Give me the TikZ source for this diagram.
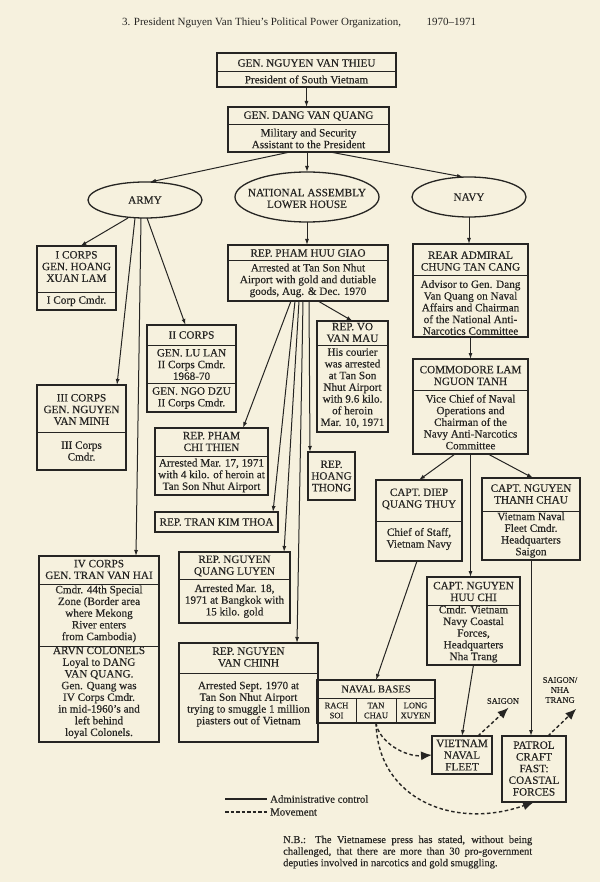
\documentclass[tikz,border=0pt]{standalone}
\usepackage{fontspec}
\setmainfont{Liberation Serif}[FakeBold=0.35]
\newfontfamily\plainf{Liberation Serif}[Ligatures=TeX]
\usetikzlibrary{shapes.geometric,arrows.meta,calc}
\definecolor{paper}{HTML}{F6F1DE}
\definecolor{ink}{HTML}{262523}
\newcommand\bxf{\fontsize{11.2}{11.7}\selectfont}
\newcommand\smf{\fontsize{8.5}{10}\selectfont}
\newcommand\titf{\plainf\fontsize{11}{13}\selectfont}
\newcommand\mkbox[5]{\node[box, minimum width={#4-#2}, minimum height={#5-#3}] (#1) at ({(#2+#4)/2},{(#3+#5)/2}) {};}
\newcommand\hdiv[2]{\path (0,#2) coordinate (dv#1#2); \draw[divl] (#1.west |- dv#1#2) -- (#1.east |- dv#1#2);}
\newcommand\tx[4]{\node[txt] (#1) at (#2,#3) {#4};}
\tikzset{
  box/.style={draw=ink, line width=1.3pt, inner sep=0pt, outer sep=0pt},
  ell/.style={draw=ink, line width=1.3pt, ellipse, inner sep=0pt, outer sep=0pt},
  divl/.style={draw=ink, line width=1pt},
  txt/.style={align=center, inner sep=0pt, font=\bxf, text=ink},
  cell/.style={draw=ink, line width=1pt, inner sep=0pt, outer sep=0pt, align=center, font=\smf, text=ink, minimum height=25},
  arr/.style={draw=ink, line width=1pt, -{Latex[length=6pt,width=4pt]}},
  darr/.style={draw=ink, line width=1.4pt, dash pattern=on 3.5pt off 2.5pt, -{Latex[length=11pt,width=9pt]}},
}
\begin{document}
\begin{tikzpicture}[x=1pt,y=-1pt]
\fill[paper] (0,0) rectangle (600,882);
\useasboundingbox (0,0) rectangle (600,882);

\node[font=\titf, text=ink, inner sep=0] (title) at (299,23) {\hbox to 354pt{3. President Nguyen Van Thieu’s Political Power Organization,\hfill 1970–1971}};

% top
\mkbox{thieu}{217}{53}{396}{87} \hdiv{thieu}{72}
\tx{t1}{306.5}{63}{GEN. NGUYEN VAN THIEU}
\tx{t2}{306.5}{79.5}{President of South Vietnam}
\mkbox{quang}{228}{107}{389}{152} \hdiv{quang}{125}
\tx{t3}{308.5}{116}{GEN. DANG VAN QUANG}
\tx{t4}{308.5}{138.5}{Military and Security\\Assistant to the President}

% ellipses
\node[ell, minimum width=114, minimum height=36] (army) at (145,200) {};
\tx{t5}{145}{200}{ARMY}
\node[ell, minimum width=144, minimum height=50] (na) at (307,197) {};
\tx{t6}{307}{198.5}{NATIONAL ASSEMBLY\\LOWER HOUSE}
\node[ell, minimum width=114, minimum height=40] (navy) at (469,197) {};
\tx{t7}{469}{197}{NAVY}

% army branch
\mkbox{icorps}{37}{246}{116}{310} \hdiv{icorps}{292}
\tx{t8}{76.5}{266.5}{I CORPS\\GEN. HOANG\\XUAN LAM}
\tx{t9}{76.5}{301}{I Corp Cmdr.}
\mkbox{iicorps}{147}{325}{236}{412} \hdiv{iicorps}{345} \hdiv{iicorps}{383}
\tx{t10}{191.5}{335}{II CORPS}
\tx{t11}{191.5}{364.5}{GEN. LU LAN\\II Corps Cmdr.\\1968-70}
\tx{t12}{191.5}{398}{GEN. NGO DZU\\II Corps Cmdr.}
\mkbox{iiicorps}{37}{385}{126}{470} \hdiv{iiicorps}{432}
\tx{t13}{81.5}{409.5}{III CORPS\\GEN. NGUYEN\\VAN MINH}
\tx{t14}{81.5}{451}{III Corps\\Cmdr.}
\mkbox{ivcorps}{39}{556}{159}{742} \hdiv{ivcorps}{584} \hdiv{ivcorps}{646}
\tx{t15}{99}{569.5}{IV CORPS\\GEN. TRAN VAN HAI}
\tx{t16}{99}{614}{Cmdr. 44th Special\\Zone (Border area\\where Mekong\\River enters\\from Cambodia)}
\tx{t17}{99}{692.5}{ARVN COLONELS\\Loyal to DANG\\VAN QUANG.\\Gen. Quang was\\IV Corps Cmdr.\\in mid-1960's and\\left behind\\loyal Colonels.}

% assembly branch
\mkbox{giao}{228}{245}{388}{301} \hdiv{giao}{261}
\tx{t18}{308}{253}{REP. PHAM HUU GIAO}
\tx{t19}{308}{280.5}{Arrested at Tan Son Nhut\\Airport with gold and dutiable\\goods, Aug. \& Dec. 1970}
\mkbox{vo}{317}{321}{388}{432} \hdiv{vo}{345}
\tx{t20}{352.5}{332.5}{REP. VO\\VAN MAU}
\tx{t21}{352.5}{388}{His courier\\was arrested\\at Tan Son\\Nhut Airport\\with 9.6 kilo.\\of heroin\\Mar. 10, 1971}
\mkbox{thien}{155}{428}{268}{495} \hdiv{thien}{456}
\tx{t22}{211.5}{441.5}{REP. PHAM\\CHI THIEN}
\tx{t23}{211.5}{475.5}{Arrested Mar. 17, 1971\\with 4 kilo. of heroin at\\Tan Son Nhut Airport}
\mkbox{thoa}{155}{512}{278}{532}
\tx{t24}{216.5}{522}{REP. TRAN KIM THOA}
\mkbox{hoang}{308}{452}{355}{500}
\tx{t25}{331.5}{476}{REP.\\HOANG\\THONG}
\mkbox{luyen}{179}{552}{290}{623} \hdiv{luyen}{579}
\tx{t26}{234.5}{566}{REP. NGUYEN\\QUANG LUYEN}
\tx{t27}{234.5}{601}{Arrested Mar. 18,\\1971 at Bangkok with\\15 kilo. gold}
\mkbox{chinh}{179}{643}{318}{742} \hdiv{chinh}{673}
\tx{t28}{248.5}{657}{REP. NGUYEN\\VAN CHINH}
\tx{t29}{248.5}{704}{Arrested Sept. 1970 at\\Tan Son Nhut Airport\\trying to smuggle 1 million\\piasters out of Vietnam}

% navy branch
\mkbox{cang}{413}{244}{528}{337} \hdiv{cang}{275}
\tx{t30}{470.5}{261}{REAR ADMIRAL\\CHUNG TAN CANG}
\tx{t31}{470.5}{307.5}{Advisor to Gen. Dang\\Van Quang on Naval\\Affairs and Chairman\\of the National Anti-\\Narcotics Committee}
\mkbox{lam}{413}{359}{528}{454} \hdiv{lam}{390}
\tx{t32}{470.5}{375.5}{COMMODORE LAM\\NGUON TANH}
\tx{t33}{470.5}{422}{Vice Chief of Naval\\Operations and\\Chairman of the\\Navy Anti-Narcotics\\Committee}
\mkbox{diep}{376}{480}{462}{561} \hdiv{diep}{521}
\tx{t34}{419}{499}{CAPT. DIEP\\QUANG THUY}
\tx{t35}{419}{539}{Chief of Staff,\\Vietnam Navy}
\mkbox{chau}{482}{478}{580}{560} \hdiv{chau}{511}
\tx{t36}{531}{494}{CAPT. NGUYEN\\THANH CHAU}
\tx{t37}{531}{535}{Vietnam Naval\\Fleet Cmdr.\\Headquarters\\Saigon}
\mkbox{huuchi}{427}{577}{520}{665} \hdiv{huuchi}{605}
\tx{t38}{473.5}{591.5}{CAPT. NGUYEN\\HUU CHI}
\tx{t39}{473.5}{634}{Cmdr. Vietnam\\Navy Coastal\\Forces,\\Headquarters\\Nha Trang}
\mkbox{bases}{317}{680}{435}{723}
\node[txt, font=\fontsize{10.5}{11}\selectfont] (t40) at (376,689) {NAVAL BASES};
\node[cell, minimum width=39] (rach) at (336.5,710.5) {RACH\\SOI};
\node[cell, minimum width=40] (tan) at (376,710.5) {TAN\\CHAU};
\node[cell, minimum width=39] (long) at (415.5,710.5) {LONG\\XUYEN};
\mkbox{vnf}{432}{736}{492}{774}
\tx{t41}{462}{755}{VIETNAM\\NAVAL\\FLEET}
\mkbox{patrol}{502}{736}{566}{802}
\tx{t42}{534}{768.5}{PATROL\\CRAFT\\FAST:\\COASTAL\\FORCES}
\node[txt, font=\smf] (sg) at (503,701) {SAIGON};
\node[txt, font=\smf] (sgn) at (560,690) {SAIGON/\\NHA\\TRANG};

% connectors
\draw[arr] (thieu.south) -- (thieu.south |- quang.north);
\draw[arr] ([xshift=-18.5]quang.south) -- ([xshift=5]army.north);
\draw[arr] (quang.south -| na.north) -- (na.north);
\draw[arr] ([xshift=21.5]quang.south) -- ([xshift=-6]navy.north);
\draw[arr] ([xshift=-17]army.south) -- ([xshift=4]icorps.north);
\draw[arr] ([xshift=-10]army.south) -- ([xshift=-9]iiicorps.north east);
\draw[arr] ([xshift=-4]army.south) -- ([xshift=-23]ivcorps.north east);
\draw[arr] ([xshift=2]army.south) -- ([xshift=-6]iicorps.north);
\draw[arr] (na.south) -- (na.south |- giao.north);
\draw[arr] ([xshift=-17]giao.south) -- ([xshift=31.5]thien.north);
\draw[arr] ([xshift=-13]giao.south) -- ([xshift=56.5]thoa.north);
\draw[arr] ([xshift=-9]giao.south) -- ([xshift=49.5]luyen.north);
\draw[arr] ([xshift=-5]giao.south) -- ([xshift=48.5]chinh.north);
\draw[arr] ([xshift=1]giao.south) -- ([xshift=-21.5]hoang.north);
\draw[arr] ([xshift=10]giao.south) -- (vo.north);
\draw[arr] (navy.south) -- (navy.south |- cang.north);
\draw[arr] (cang.south) -- (lam.north);
\draw[arr] ([xshift=-15.5]lam.south) -- (diep.north);
\draw[arr] ([xshift=17.5]lam.south) -- ([xshift=2]chau.north);
\draw[arr] (lam.south) -- (lam.south |- huuchi.north);
\draw[arr] ([xshift=-2]diep.south) -- (bases.north);
\draw[arr] (huuchi.south) -- (vnf.north);
\draw[arr] (chau.south) -- (chau.south |- patrol.north);

% movement
\draw[darr] (tan.south) .. controls (379,742) and (405,757) .. (vnf.west);
\draw[darr] (tan.south) .. controls (378,800) and (455,830) .. (patrol.south);
\draw[darr, shorten >=1pt] ([xshift=-14]vnf.north east) -- ([xshift=-10,yshift=-3]sg.south east);
\draw[darr, shorten >=1pt] ([xshift=-18]patrol.north east) -- ([xshift=17,yshift=-5]sgn.south);

% legend
\coordinate (la1) at (225,799); \coordinate (la2) at (267,799);
\coordinate (lb1) at (225,812); \coordinate (lb2) at (267,812);
\draw[draw=ink, line width=1.4pt] (la1) -- (la2);
\draw[draw=ink, line width=1.4pt, dash pattern=on 3.5pt off 2pt] (lb1) -- (lb2);
\node[txt, anchor=west, font=\fontsize{10.8}{12}\selectfont] (lgt1) at (270,799) {Administrative control};
\node[txt, anchor=west, font=\fontsize{10.8}{12}\selectfont] (lgt2) at (270,812) {Movement};

\node[anchor=north west, inner sep=0pt, align=left, text=ink, font=\fontsize{10.5}{11.6}\selectfont] (nb) at (283,835.5) {\makebox[249pt][s]{N.B.: The Vietnamese press has stated, without being}\\\makebox[249pt][s]{challenged, that there are more than 30 pro-government}\\deputies involved in narcotics and gold smuggling.};
\end{tikzpicture}
\end{document}
